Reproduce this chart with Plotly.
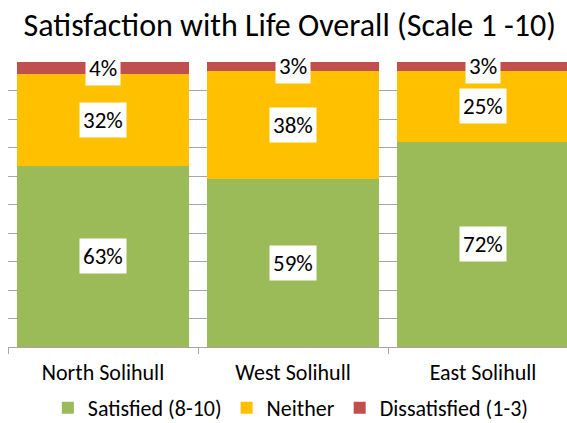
import plotly.graph_objects as go

categories = ["North Solihull", "West Solihull", "East Solihull"]
satisfied = [63, 59, 72]
neither = [32, 38, 25]
dissatisfied = [4, 3, 3]

series = [
    ("Satisfied (8-10)", satisfied, "#9BBB59"),
    ("Neither", neither, "#FFC000"),
    ("Dissatisfied (1-3)", dissatisfied, "#C0504D"),
]

FONT = "Carlito, Lato, sans-serif"

fig = go.Figure()
for name, vals, col in series:
    fig.add_trace(go.Bar(
        x=categories, y=vals, name=name,
        marker=dict(color=col, line=dict(width=0)),
        hoverinfo="skip",
    ))

# data labels with white boxes, centred on each (normalised) segment
totals = [a + b + c for a, b, c in zip(satisfied, neither, dissatisfied)]
for i, cat in enumerate(categories):
    base = 0.0
    for name, vals, col in series:
        v = vals[i]
        pct = v / totals[i] * 100
        fig.add_annotation(
            x=cat, y=base + pct / 2, text=f"{v}%",
            showarrow=False, bgcolor="white", borderpad=3,
            font=dict(family=FONT, size=23, color="#000000"),
        )
        base += pct

W, H = 567, 423
PLOT_H = H - 62 - 76
fig.update_layout(
    width=W, height=H,
    barmode="stack", barnorm="percent", bargap=0.095,
    paper_bgcolor="white", plot_bgcolor="white",
    margin=dict(l=8, r=0, t=62, b=76, autoexpand=False),
    title=dict(text="Satisfaction with Life Overall (Scale 1 -10)",
               x=0.511, xanchor="center", y=1 - 25 / H, yanchor="middle",
               font=dict(family=FONT, size=32, color="#000000")),
    font=dict(family=FONT, color="#000000"),
    showlegend=True,
    legend=dict(orientation="h", x=0.506, xanchor="center",
                y=-(408 - (H - 76)) / PLOT_H, yanchor="middle",
                font=dict(family=FONT, size=22), traceorder="normal",
                itemwidth=30, bgcolor="rgba(0,0,0,0)"),
)
fig.update_xaxes(
    range=[-0.5, 2.442], showline=True, linecolor="#A6A6A6", linewidth=1,
    ticks="outside", tickson="boundaries", ticklen=6, tickcolor="#A6A6A6",
    tickfont=dict(family=FONT, size=22), showgrid=False, ticklabelstandoff=6,
)
fig.update_yaxes(
    range=[0, 100], dtick=10, showgrid=True, gridcolor="#A6A6A6", gridwidth=1,
    showticklabels=False, zeroline=False, showline=False,
)

fig.write_html(
    "out.html",
    config={"displayModeBar": False},
    post_script="document.body.style.margin='0';document.body.style.overflow='hidden';",
)
